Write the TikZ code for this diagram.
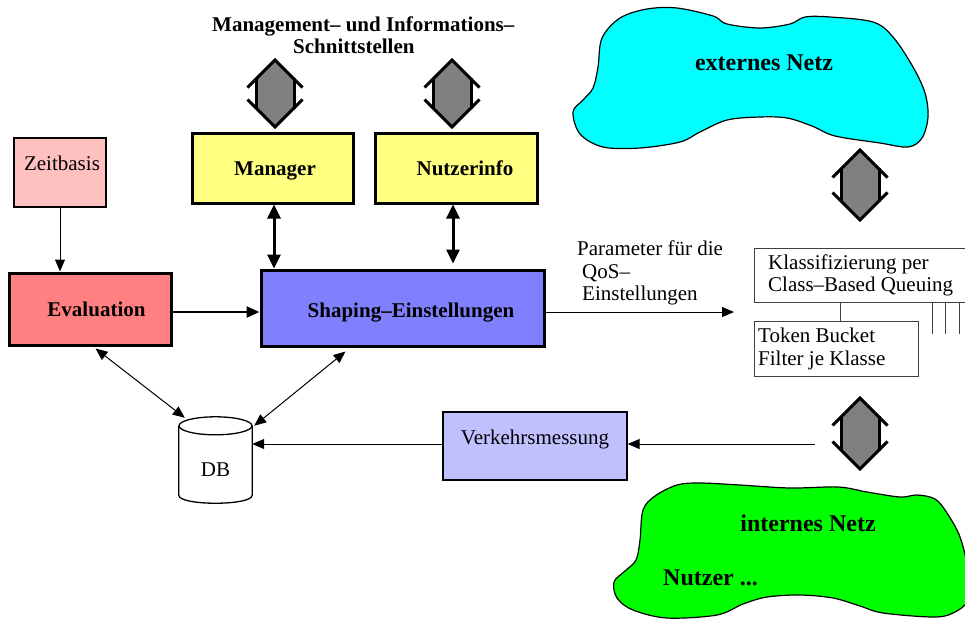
\documentclass[tikz,border=0pt]{standalone}
\usepackage{fontspec}
\setmainfont{Liberation Serif}
\usetikzlibrary{arrows.meta,calc}
\definecolor{cpink}{HTML}{FFC0C0}
\definecolor{cyel}{HTML}{FFFF80}
\definecolor{cred}{HTML}{FF8080}
\definecolor{cblue}{HTML}{8080FF}
\definecolor{clblue}{HTML}{C0C0FF}
\definecolor{ccyan}{HTML}{00FFFF}
\definecolor{cgreen}{HTML}{00FF00}
\definecolor{cgray}{HTML}{808080}
\tikzset{
  thickbox/.style={draw, line width=3pt, inner sep=0pt},
  thinbox/.style={draw, line width=1.3pt, inner sep=0pt},
  frame/.style={line width=1pt, draw=black!75},
  lbl/.style={text height=14pt, text depth=0pt, inner sep=0pt},
  blbl/.style={lbl, font=\fontsize{21}{22.5}\selectfont\bfseries},
  arr/.style={line width=1pt, -{Triangle[length=12pt,width=10pt]}},
  darr/.style={line width=1pt, {Triangle[length=12pt,width=10pt]}-{Triangle[length=12pt,width=10pt]}},
  thkdarr/.style={line width=3pt, {Triangle[length=14pt,width=13pt]}-{Triangle[length=14pt,width=13pt]}},
  thkarr/.style={line width=2.5pt, -{Triangle[length=13pt,width=11pt]}},
  gdstroke/.style={line width=3pt, line join=miter},
  cloudline/.style={draw, line width=1.2pt},
  bigbold/.style={font=\fontsize{24}{26}\selectfont\bfseries, inner sep=0pt}
}
\newcommand{\gdarrowdraw}[3]{%
  \begin{scope}[shift={(#1,#2)}]
    \fill[cgray] (0,-#3) -- (-19,{-#3+19}) -- (-19,{#3-19}) -- (0,#3) -- (19,{#3-19}) -- (19,{-#3+19}) -- cycle;
    \draw[gdstroke] (-27.5,{-#3+27.5}) -- (0,-#3) -- (27.5,{-#3+27.5});
    \draw[gdstroke] (-27.5,{#3-27.5}) -- (0,#3) -- (27.5,{#3-27.5});
    \draw[gdstroke] (-19,{-#3+18}) -- (-19,{#3-18});
    \draw[gdstroke] (19,{-#3+18}) -- (19,{#3-18});
  \end{scope}}
\begin{document}
\begin{tikzpicture}[x=1pt, y=-1pt, font=\fontsize{21}{22.5}\selectfont]
\useasboundingbox (0,0) rectangle (965,619);
\clip (0,0) rectangle (965,619);

% clouds
\path[cloudline, fill=ccyan] plot[smooth cycle, tension=0.55] coordinates {
 (602,38) (620,18) (647,9) (677,8) (713,16) (727,24) (760,28) (790,24) (805,17) (830,17)
 (873,22) (893,37) (913,67) (925,93) (928,117) (922,138) (908,147) (880,143)
 (835,136) (812,126) (787,118) (760,117) (727,120) (700,132) (680,142) (640,148) (603,147)
 (580,134) (573,112) (583,100) (593,88) (598,67)};
\node[bigbold] (ext) at (764,63) {externes Netz};

\path[cloudline, fill=cgreen] plot[smooth cycle, tension=0.55] coordinates {
 (643,510) (655,496) (677,485) (700,483) (740,485) (790,488) (838,487)
 (867,492) (900,497) (917,495) (935,499) (947,513) (960,537) (968,570) (968,600) (953,613) (933,617)
 (883,613) (860,606) (833,598) (800,595) (767,597) (743,604) (717,615) (667,618) (633,610)
 (617,598) (614,582) (625,571) (636,560) (640,540)};
\node[bigbold] (int) at (808,523) {internes Netz};
\node[bigbold, anchor=west] (nutz) at (663,578) {Nutzer ...};

% title
\node[font=\fontsize{21}{22.5}\selectfont\bfseries, anchor=west, align=left, inner sep=0pt] (title) at (212,35)
  {Management– und Informations–\\\hspace*{81pt}Schnittstellen};

% gray double arrows
\gdarrowdraw{275}{93.5}{33.5}
\gdarrowdraw{452}{93.5}{33.5}
\gdarrowdraw{860}{185}{35}
\gdarrowdraw{860}{433.5}{35.5}

% boxes
\node[thinbox, fill=cpink, minimum width=92pt, minimum height=69pt,
  label={[lbl,xshift=2pt,yshift=9.5pt]center:Zeitbasis}] (zb) at (60,172.5) {};
\node[thickbox, fill=cyel, minimum width=161pt, minimum height=70pt,
  label={[blbl,xshift=2.5pt]center:Manager}] (mg) at (272.5,168) {};
\node[thickbox, fill=cyel, minimum width=162pt, minimum height=70pt,
  label={[blbl,xshift=9pt]center:Nutzerinfo}] (nu) at (456,168) {};
\node[thickbox, fill=cred, minimum width=162pt, minimum height=72pt,
  label={[blbl,xshift=6.5pt]center:Evaluation}] (ev) at (90,309) {};
\node[thickbox, fill=cblue, minimum width=283pt, minimum height=76pt,
  label={[blbl,xshift=8.5pt,yshift=-2pt]center:Shaping–Einstellungen}] (sh) at (402.5,308) {};
\node[thinbox, fill=clblue, minimum width=184pt, minimum height=68pt,
  label={[lbl,yshift=9pt]center:Verkehrsmessung}] (vm) at (535,446) {};

% Klassifizierung (open to the right) and Token Bucket
\node[minimum width=213pt, minimum height=54pt, inner sep=0pt, anchor=north west,
  label={[anchor=west,align=left,inner sep=0pt,xshift=14pt]west:Klassifizierung per\\Class–Based Queuing}] (kl) at (754,248) {};
\draw[frame] (kl.north east) -- (kl.north west) -- (kl.south west) -- (kl.south east);
\node[frame, draw, minimum width=164pt, minimum height=55pt, inner sep=0pt, anchor=north west,
  label={[anchor=west,align=left,inner sep=0pt,xshift=4pt]west:Token Bucket\\Filter je Klasse}] (tb) at (754,321) {};
\coordinate (klt) at ($(kl.south west)+(86,0)$);
\draw[frame] (klt) -- (klt |- tb.north);
\draw[frame] ($(kl.south west)+(178,0)$) -- ++(0,32);
\draw[frame] ($(kl.south west)+(191,0)$) -- ++(0,32);
\draw[frame] ($(kl.south west)+(205,0)$) -- ++(0,32);

% DB cylinder
\node[minimum width=73pt, minimum height=86pt, inner sep=0pt] (db) at (215.5,460) {};
\path[draw, line width=1.3pt, fill=white]
  ($(db.north west)+(0,9)$) -- ($(db.south west)+(0,-8)$)
  .. controls ($(db.south west)+(0,2.7)$) and ($(db.south east)+(0,2.7)$) .. ($(db.south east)+(0,-8)$)
  -- ($(db.north east)+(0,9)$);
\draw[line width=1.3pt, fill=white] ($(db.north)+(0,9)$) ellipse [x radius=36.5pt, y radius=9pt];
\node[lbl] (dbt) at ($(db.center)+(0,9)$) {DB};

% connectors
\draw[arr] (zb.south) -- (zb.south |- ev.north);
\coordinate (mgs) at ($(mg.south)+(1.5,0)$);
\draw[thkdarr] (mgs) -- (mgs |- sh.north);
\coordinate (nus) at ($(nu.south)+(-3,0)$);
\coordinate (nue) at (nus |- sh.north);
\draw[thkdarr] (nus) -- ($(nue)+(0,-5)$);
\coordinate (evout) at ($(ev.east)+(0,3)$);
\draw[thkarr] (evout) -- (evout -| sh.west);
\coordinate (shout) at ($(sh.east)+(0,4)$);
\coordinate (klin) at (shout -| kl.west);
\draw[arr] (shout) -- ($(klin)+(-20,0)$);
\node[anchor=west, align=left, inner sep=0pt] (par) at (577,273)
  {Parameter für die\\\hspace*{5pt}QoS–\\\hspace*{5pt}Einstellungen};
\draw[darr] ($(ev.south west)+(88,2)$) -- ($(db.north west)+(6,1)$);
\draw[darr] ($(sh.south west)+(86,4)$) -- ($(db.north east)+(2,9)$);
\coordinate (vmsrc) at (815,444);
\draw[arr] (vmsrc) -- (vmsrc -| vm.east);
\draw[arr] (vmsrc -| vm.west) -- (vmsrc -| db.east);
\end{tikzpicture}
\end{document}
